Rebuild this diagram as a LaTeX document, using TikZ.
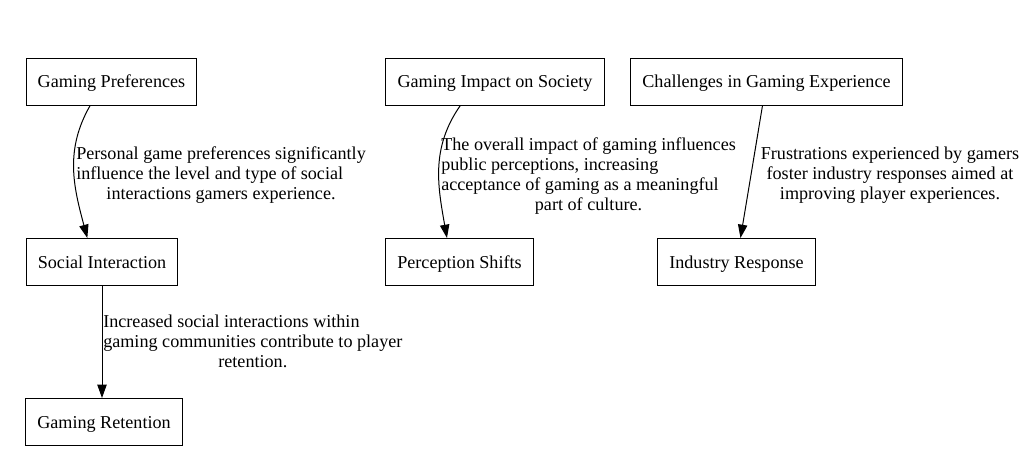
\documentclass[tikz,border=0pt]{standalone}
\usepackage{fontspec}
\setmainfont{Liberation Serif}
\usetikzlibrary{arrows.meta}
\tikzset{
  every picture/.style={font=\fontsize{13.6}{15}\selectfont, >={Triangle[length=10pt, width=7pt]}},
  topic/.style={draw=black, line width=0.75pt, minimum height=35.25pt, inner xsep=8.8pt,
                text height=1em, text depth=0.05em},
  note/.style={inner sep=0pt, align=left},
  link/.style={->, line width=0.75pt, black},
}

\begin{document}
\begin{tikzpicture}[x=0.75pt, y=-0.75pt]
  \useasboundingbox (0,0) rectangle (1028,472);
  \node[topic] (pref) at (111.5,81.5) {Gaming Preferences};
  \node[topic] (impact) at (495,81.5) {Gaming Impact on Society};
  \node[topic] (chall) at (766.5,81.5) {Challenges in Gaming Experience};
  \node[topic] (social) at (102,262) {Social Interaction};
  \node[topic] (percep) at (459.5,262) {Perception Shifts};
  \node[topic] (industry) at (736.5,262) {Industry Response};
  \node[topic] (retention) at (104,422) {Gaming Retention};
  % edges
  \draw[link] ([xshift=-16pt]pref.south) to[out=240, in=105] ([xshift=-11pt]social.north);
  \draw[link] (social) -- (social |- retention.north);
  \draw[link] ([xshift=-26pt]impact.south) to[out=235, in=100] ([xshift=-9.4pt]percep.north);
  \draw[link] (chall) -- (industry);
  % edge texts
  \node[note, anchor=north west] (prefnote) at (76,146) {Personal game preferences significantly\\influence the level and type of social\\\hspace*{\fill}interactions gamers experience.\hspace*{\fill}};
  \node[note, anchor=north west] (socialnote) at (103,315) {Increased social interactions within\\gaming communities contribute to player\\\hspace*{\fill}retention.\hspace*{\fill}};
  \node[note, anchor=north west] (impactnote) at (441,137) {The overall impact of gaming influences\\public perceptions, increasing\\acceptance of gaming as a meaningful\\\hspace*{\fill}part of culture.\hspace*{\fill}};
  \node[note, align=center, anchor=north] (challnote) at (890,147) {Frustrations experienced by gamers\\foster industry responses aimed at\\improving player experiences.};
\end{tikzpicture}
\end{document}
